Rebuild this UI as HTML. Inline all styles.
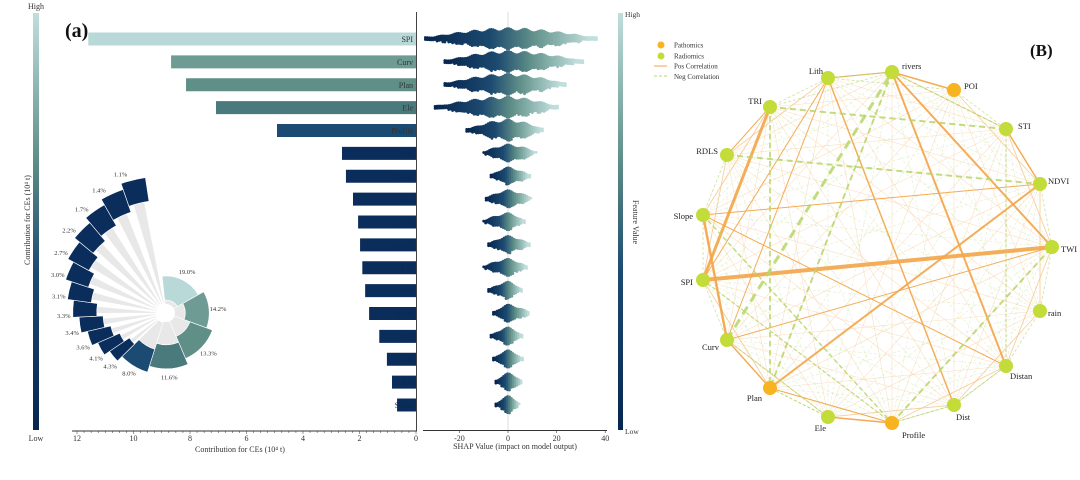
<!DOCTYPE html>
<html><head><meta charset="utf-8"><style>
html,body{margin:0;padding:0;background:#fff;}
svg{display:block;font-family:"Liberation Serif",serif;}
</style></head><body>
<svg id="fig" width="1080" height="480" viewBox="0 0 1080 480" xmlns="http://www.w3.org/2000/svg">
<defs>
<linearGradient id="cbar" x1="0" y1="0" x2="0" y2="1">
<stop offset="0" stop-color="#c0dedc"/><stop offset="0.35" stop-color="#5f8f88"/><stop offset="0.62" stop-color="#1d4a70"/><stop offset="1" stop-color="#06264f"/>
</linearGradient>
</defs>
<g id="panelA"></g>
<g id="panelB"></g>
</svg>
<script>
const NS="http://www.w3.org/2000/svg";
// ---- Data: panel (a) bar chart ----
const features=["SPI","Curv","Plan","Ele","Profile","Dist","Distan","rain","TWI","NDVI","STI","POI","rivers","Lith","TRI","RDLS","Slope"];
const contributions=[11.6,8.67,8.14,7.08,4.92,2.62,2.48,2.23,2.05,1.98,1.9,1.8,1.66,1.3,1.03,0.85,0.67];
const barTicks=[12,10,8,6,4,2,0];
const pieLabels=["19.0%","14.2%","13.3%","11.6%","8.0%","4.3%","4.1%","3.6%","3.4%","3.3%","3.1%","3.0%","2.7%","2.2%","1.7%","1.4%","1.1%"];
const piePct=[19.0,14.2,13.3,11.6,8.0,4.3,4.1,3.6,3.4,3.3,3.1,3.0,2.7,2.2,1.7,1.4,1.1];
// SHAP ranges per feature
const shapMin=[-34,-26,-26,-30,-17,-10,-7,-9,-10,-8,-10,-8,-6,-7,-6,-5,-5];
const shapMax=[37,31,24,21,15,12,9,10,7,9,8,6,9,6,6,6,5];
const shapTicks=[-20,0,20,40];
// ---- Data: panel (B) network ----
const nodes=["rivers","POI","STI","NDVI","TWI","rain","Distan","Dist","Profile","Ele","Plan","Curv","SPI","Slope","RDLS","TRI","Lith"];
const nodeType=["R","P","R","R","R","R","R","R","P","R","P","R","R","R","R","R","R"];
const edgeA=["SPI","TRI","Slope","Plan","rivers","rivers","Lith","rivers","STI","Curv","Ele","Slope","Curv","Plan","rivers","Lith","Slope","Curv","TRI","Curv","rivers","TRI","RDLS","TRI","Profile","Lith","rivers","Slope","SPI","Curv","Ele","STI","Dist","Profile"];
const edgeB=["TWI","SPI","Curv","NDVI","Distan","TWI","Dist","POI","NDVI","Plan","Profile","NDVI","Lith","Profile","Lith","SPI","Distan","TWI","RDLS","rivers","Plan","STI","NDVI","Plan","TWI","rivers","STI","Profile","Profile","Ele","Plan","Distan","Distan","Dist"];
const edgeW=[4,3,2.5,2,2,2,1.5,1.5,1.5,1.5,1.5,1,1,1,1,1,1,1,1,-3,-2,-2,-2,-1.8,-2,-1.2,-1.2,-1.5,-1.2,-1,-1,-1,-1,-1];

function el(tag,attrs,parent,text){const e=document.createElementNS(NS,tag);for(const k in attrs)e.setAttribute(k,attrs[k]);if(text!==undefined)e.textContent=text;parent.appendChild(e);return e;}
function lerp(a,b,t){return a+(b-a)*t;}
function mix(c1,c2,t){const p=h=>[1,3,5].map(i=>parseInt(h.substr(i,2),16));const a=p(c1),b=p(c2);return "rgb("+a.map((v,i)=>Math.round(lerp(v,b[i],t))).join(",")+")";}
function grad(t){
 if(t<0.4)return mix("#06264f","#1d4a70",t/0.4);
 if(t<0.65)return mix("#1d4a70","#5f8f88",(t-0.4)/0.25);
 return mix("#5f8f88","#c0dedc",(t-0.65)/0.35);}
const barColors=["#b9d8d8","#6e9c94","#5f8f86","#4b7a7c","#1b4a72"];
const navy="#0b2d5c";

const A=document.getElementById("panelA");
let e;
e=el("rect",{x:33,y:13,width:6,height:417,fill:"url(#cbar)"},A);

e=el("text",{x:36,y:9,"font-size":8,"text-anchor":"middle",fill:"#333"},A,"High");

e=el("text",{x:36,y:441,"font-size":8,"text-anchor":"middle",fill:"#333"},A,"Low");

e=el("text",{x:0,y:0,"font-size":8,"text-anchor":"middle",fill:"#333",transform:"translate(30,220) rotate(-90)"},A,"Contribution for CEs (10⁴ t)");

e=el("text",{x:65,y:37,"font-size":20,"font-weight":"bold",fill:"#111"},A,"(a)");


const bx0=416, bpx=28.25;
const xB=v=>bx0-v*bpx;
const rowY=i=>39+i*22.875;
features.forEach((f,i)=>{
 const r=el("rect",{x:xB(contributions[i]),y:rowY(i)-6.5,width:contributions[i]*bpx,height:13,fill:i<5?barColors[i]:navy},A);
 
 const t=el("text",{x:413,y:rowY(i)+3,"font-size":8,"text-anchor":"end",fill:i<5?"#333":"#0a2a50"},A,f);
 
});
e=el("line",{x1:416.5,y1:12,x2:416.5,y2:431,stroke:"#444","stroke-width":1},A);

e=el("line",{x1:72,y1:431,x2:417,y2:431,stroke:"#333","stroke-width":1},A);

for(let v=0;v<=12.01;v+=0.25){el("line",{x1:xB(v),y1:431,x2:xB(v),y2:v%2===0?434:433,stroke:"#333","stroke-width":0.5},A);}
barTicks.forEach(v=>{const t=el("text",{x:xB(v),y:441,"font-size":8,"text-anchor":"middle",fill:"#333"},A,String(v));
 });
e=el("text",{x:240,y:452,"font-size":8,"text-anchor":"middle",fill:"#333"},A,"Contribution for CEs (10⁴ t)");


// polar inset
const pcx=166,pcy=313;
function pt(r,deg){const a=(deg-90)*Math.PI/180;return [pcx+r*Math.cos(a),pcy+r*Math.sin(a)];}
function wedge(r0,r1,a0,a1){const p1=pt(r1,a0),p2=pt(r1,a1),p3=pt(r0,a1),p4=pt(r0,a0);const lg=(a1-a0)>180?1:0;
 return `M${p1[0]},${p1[1]} A${r1},${r1} 0 ${lg} 1 ${p2[0]},${p2[1]} L${p3[0]},${p3[1]} A${r0},${r0} 0 ${lg} 0 ${p4[0]},${p4[1]} Z`;}
const polar=el("g",{},A);
let ang=-6;
piePct.forEach((p,i)=>{
 const w=p>=5?p*3.5:10.5;
 const rOut=37+i*6.25, rIn=Math.max(13,rOut-24);
 const gw=p>=5?w:w*0.55, ga=ang+(w-gw)/2;
 const g=el("path",{d:wedge(i<4?4:10,rIn,ga,ga+gw),fill:"#e8e8e8",stroke:"#fff","stroke-width":0.6},polar);
 
 const c=el("path",{d:wedge(rIn,rOut,ang,ang+w),fill:i<5?barColors[i]:navy,stroke:"#fff","stroke-width":0.6},polar);
 
 const mid=ang+w/2, lp=pt(rOut+9,i<5?mid:ang+1);
 const t=el("text",{x:lp[0],y:lp[1]+2,"font-size":6.5,"text-anchor":"middle",fill:"#333"},polar,pieLabels[i]);
 
 ang+=w;
});
el("circle",{cx:pcx,cy:pcy,r:9,fill:"#fff"},polar);

// SHAP beeswarm
const sx0=508, spx=2.43;
const xS=v=>sx0+v*spx;
e=el("line",{x1:sx0,y1:12,x2:sx0,y2:430,stroke:"#ddd","stroke-width":1},A);

features.forEach((f,i)=>{
 const g=el("g",{},A);
 const lo=shapMin[i],hi=shapMax[i],cy=rowY(i);
 const maxH=i<5?10.5:8.5;
 const center=lo*0.05+hi*0.05;
 for(let v=lo;v<=hi;v+=0.8){
  const d=(v-center)/((v<center)?(center-lo):(hi-center));
  const h=maxH*Math.max(0.15,1-Math.pow(Math.abs(d),1.6))*(0.85+0.15*Math.cos(v*0.9));
  const t=(v-lo)/(hi-lo);
  for(let y=-h;y<=h+0.01;y+=2){
   el("circle",{cx:xS(v),cy:cy+y,r:1.4,fill:grad(Math.min(1,Math.max(0,t*1.05)))},g);
  }
 }
});
e=el("line",{x1:423,y1:430.5,x2:607,y2:430.5,stroke:"#333","stroke-width":1},A);

shapTicks.forEach(v=>{el("line",{x1:xS(v),y1:430,x2:xS(v),y2:433,stroke:"#333","stroke-width":0.6},A);
 const t=el("text",{x:xS(v),y:441,"font-size":8,"text-anchor":"middle",fill:"#333"},A,String(v));
 });
e=el("text",{x:515,y:449,"font-size":8,"text-anchor":"middle",fill:"#333"},A,"SHAP Value (impact on model output)");

e=el("rect",{x:618,y:13,width:5,height:417,fill:"url(#cbar)"},A);

e=el("text",{x:625,y:17,"font-size":7.5,fill:"#333"},A,"High");

e=el("text",{x:625,y:434,"font-size":7.5,fill:"#333"},A,"Low");

e=el("text",{x:0,y:0,"font-size":8,"text-anchor":"middle",fill:"#333",transform:"translate(633,222) rotate(90)"},A,"Feature Value");


// ---- Panel B network ----
const B=document.getElementById("panelB");
const layoutX=[892,954,1006,1040,1052,1040,1006,954,892,828,770,727,703,703,727,770,828];
const layoutY=[72,90,129,184,247,311,366,405,423,417,388,340,280,215,155,107,78];
const npos={};
nodes.forEach((n,i)=>{npos[n]=[layoutX[i],layoutY[i]];});
const bg=el("g",{},B);
for(let i=0;i<nodes.length;i++)for(let j=i+1;j<nodes.length;j++){
 const p=npos[nodes[i]],q=npos[nodes[j]];const pos=(i*7+j*3)%2===0;
 const near=Math.min(j-i,17-(j-i))<=2;
 el("line",{x1:p[0],y1:p[1],x2:q[0],y2:q[1],stroke:pos?"#f5c38a":"#c8df94","stroke-width":near?0.9:0.6,"stroke-dasharray":pos?"":"3,2",opacity:near?0.8:0.5},bg);
}
edgeA.forEach((a,k)=>{
 const p=npos[a],q=npos[edgeB[k]],w=edgeW[k],pos=w>0;
 const l=el("line",{x1:p[0],y1:p[1],x2:q[0],y2:q[1],stroke:pos?"#f3a64a":"#b9d66a","stroke-width":Math.abs(w),"stroke-dasharray":pos?"":(Math.abs(w)*3)+","+(Math.abs(w)*2),opacity:pos?0.9:0.85},B);
 
 
});
const lblDx=[10,10,12,8,9,8,4,2,10,-2,-8,-8,-10,-10,-9,-8,-5];
const lblDy=[-6,-4,-3,-3,2,2,10,12,12,11,10,7,2,1,-4,-6,-7];
const lblAnchor=["start","start","start","start","start","start","start","start","start","end","end","end","end","end","end","end","end"];
nodes.forEach((n,i)=>{
 const p=npos[n];
 const c=el("circle",{cx:p[0],cy:p[1],r:7,fill:nodeType[i]==="P"?"#f8b320":"#c3dc3a"},B);
 
 const t=el("text",{x:p[0]+lblDx[i],y:p[1]+lblDy[i]+3,"font-size":8.5,"text-anchor":lblAnchor[i],fill:"#222"},B,n);
 
});
const lg=el("g",{},B);
el("circle",{cx:661,cy:45,r:3.5,fill:"#f8b320"},lg);
el("text",{x:674,y:47.5,"font-size":7,fill:"#333"},lg,"Pathomics");
el("circle",{cx:661,cy:56,r:3.5,fill:"#c3dc3a"},lg);
el("text",{x:674,y:58.5,"font-size":7,fill:"#333"},lg,"Radiomics");
el("line",{x1:654,y1:66,x2:667,y2:66,stroke:"#f3a64a","stroke-width":1},lg);
el("text",{x:674,y:68.5,"font-size":7,fill:"#333"},lg,"Pos Correlation");
el("line",{x1:654,y1:76,x2:667,y2:76,stroke:"#b9d66a","stroke-width":1,"stroke-dasharray":"3,2"},lg);
el("text",{x:674,y:79,"font-size":7,fill:"#333"},lg,"Neg Correlation");
e=el("text",{x:1030,y:56,"font-size":17,"font-weight":"bold",fill:"#111"},B,"(B)");

</script>
</body></html>
